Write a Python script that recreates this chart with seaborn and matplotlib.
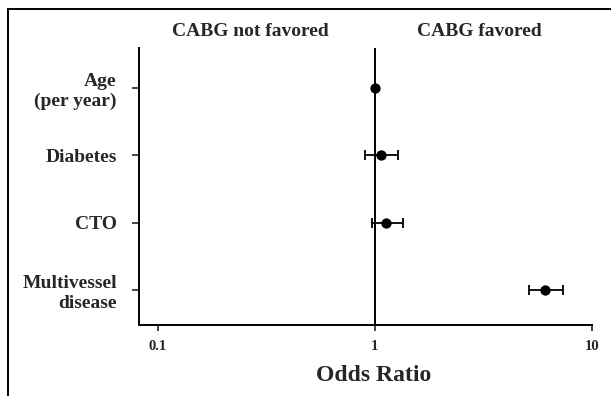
import numpy as np
import pandas as pd
import matplotlib
matplotlib.use('Agg')
import matplotlib.pyplot as plt
import seaborn as sns
from matplotlib.lines import Line2D

# odds ratios with 95% CI
factors = ['Age\n(per year)', 'Diabetes', 'CTO', 'Multivessel\ndisease']
odds_ratio = [1.00, 1.07, 1.13, 6.05]
ci_low = [1.00, 0.90, 0.97, 5.10]
ci_high = [1.00, 1.28, 1.35, 7.35]
x_ticks = [0.1, 1, 10]
x_ticklabels = ['0.1', '1', '10']

df = pd.DataFrame({'factor': factors, 'OR': odds_ratio, 'lo': ci_low, 'hi': ci_high})

sns.set_style('white')
plt.rcParams['font.family'] = ['Liberation Serif', 'DejaVu Serif']
plt.rcParams['font.weight'] = 'bold'

fig = plt.figure(figsize=(6.11, 3.96), dpi=100)
ax = fig.add_axes([0.2275, 0.1793, 0.7414, 0.6995])

ypos = np.arange(len(df))
has_ci = (df['hi'] - df['lo']) > 0
ax.errorbar(df['OR'][has_ci], ypos[has_ci],
            xerr=[(df['OR'] - df['lo'])[has_ci], (df['hi'] - df['OR'])[has_ci]],
            fmt='none', ecolor='black', elinewidth=1.3, capsize=3.6, capthick=1.3)
sns.scatterplot(x=df['OR'], y=ypos, ax=ax, color='black', s=55,
                edgecolor='black', linewidth=0, zorder=3)

ax.axvline(1, color='black', lw=1.4, zorder=1)

ax.set_xscale('log')
ax.set_xlim(0.0818, 10)
ax.set_ylim(3.52, -0.59)
ax.set_xticks(x_ticks)
ax.set_xticklabels(x_ticklabels, fontsize=10.5, fontweight='bold')
ax.xaxis.set_minor_locator(matplotlib.ticker.NullLocator())
ax.set_yticks(ypos)
ax.set_yticklabels(factors, fontsize=14, fontweight='bold', linespacing=1.25)
ax.tick_params(axis='x', direction='out', length=4, width=1.2, pad=7, bottom=True)
ax.tick_params(axis='y', direction='out', length=5, width=1.2, pad=11, left=True)

ax.set_xlabel('Odds Ratio', fontsize=17, fontweight='bold')
ax.xaxis.set_label_coords((373.7 - 139) / 453, -0.145)
ax.set_ylabel('')

sns.despine(ax=ax)
for s in ['left', 'bottom']:
    ax.spines[s].set_linewidth(1.4)
    ax.spines[s].set_color('black')

fig.text(250.5 / 611, 1 - 31 / 396, 'CABG not favored', ha='center', va='center',
         fontsize=14, fontweight='bold')
fig.text(479.5 / 611, 1 - 31 / 396, 'CABG favored', ha='center', va='center',
         fontsize=14, fontweight='bold')

# frame around the figure (only top and left edges are visible)
fig.add_artist(Line2D([8 / 611, 1], [1 - 9 / 396, 1 - 9 / 396], color='black', lw=1.4,
                      transform=fig.transFigure))
fig.add_artist(Line2D([8 / 611, 8 / 611], [0, 1 - 9 / 396], color='black', lw=1.4,
                      transform=fig.transFigure))

fig.savefig('out.png', dpi=100)
